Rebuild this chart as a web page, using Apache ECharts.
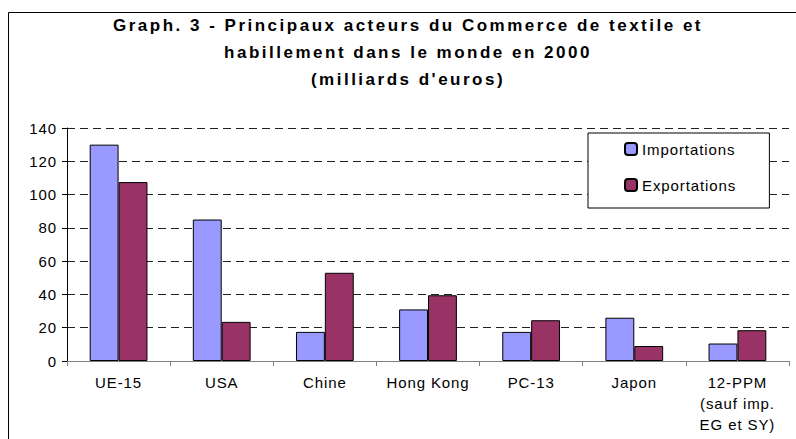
<!DOCTYPE html>
<html>
<head>
<meta charset="utf-8">
<script src="https://cdn.jsdelivr.net/npm/echarts@6/dist/echarts.min.js"></script>
<style>
  html, body { margin: 0; padding: 0; background: #fff; }
  #chart { width: 796px; height: 439px; }
  #chart text { letter-spacing: 0.9px; }
  #chart text[style*="bold"] { letter-spacing: 2.5px; }
</style>
</head>
<body>
<div id="chart"></div>
<script>
// données (milliards d'euros)
const categories = ['UE-15', 'USA', 'Chine', 'Hong Kong', 'PC-13', 'Japon', '12-PPM\n(sauf imp.\nEG et SY)'];
const importations = [130, 85, 17.5, 31, 17.5, 26, 10.5];
const exportations = [107.5, 23.5, 53, 39.5, 24.5, 9, 18.5];
const titleText = 'Graph. 3 - Principaux acteurs du Commerce de textile et\nhabillement dans le monde en 2000\n(milliards d\'euros)';

const font = '"Liberation Sans", Arial, sans-serif';

var chart = echarts.init(document.getElementById('chart'), null, { renderer: 'svg' });

var option = {
  animation: false,
  backgroundColor: '#fff',
  textStyle: { fontFamily: font, color: '#000' },
  graphic: [
    {
      type: 'rect',
      shape: { x: 8.5, y: 12.5, width: 820, height: 450 },
      style: { fill: 'none', stroke: '#000', lineWidth: 1 },
      silent: true
    }
  ],
  title: {
    text: titleText,
    left: 408,
    textAlign: 'center',
    top: 12,
    padding: 0,
    textStyle: {
      fontFamily: font,
      fontWeight: 'bold',
      fontSize: 17,
      lineHeight: 27,
      color: '#000'
    }
  },
  legend: {
    orient: 'vertical',
    left: 588,
    top: 133,
    padding: [8, 44, 15, 36],
    itemWidth: 12,
    itemHeight: 12,
    itemGap: 20,
    borderColor: '#000',
    borderWidth: 1,
    backgroundColor: '#fff',
    textStyle: { fontFamily: font, fontSize: 15, lineHeight: 16, color: '#000' },
    data: ['Importations', 'Exportations']
  },
  grid: {
    left: 67,
    right: 7,
    top: 128,
    bottom: 78,
    containLabel: false
  },
  xAxis: {
    type: 'category',
    data: categories,
    axisLine: { lineStyle: { color: '#808080', width: 1 } },
    axisTick: { show: true, length: 5, lineStyle: { color: '#808080' } },
    axisLabel: {
      interval: 0,
      fontFamily: font,
      fontSize: 15,
      lineHeight: 21,
      margin: 11,
      color: '#000'
    }
  },
  yAxis: {
    type: 'value',
    min: 0,
    max: 140,
    interval: 20,
    axisLine: { show: true, lineStyle: { color: '#000', width: 1 } },
    axisTick: { show: true, length: 5, lineStyle: { color: '#000' } },
    axisLabel: { fontFamily: font, fontSize: 15, margin: 10, color: '#000' },
    splitLine: {
      show: true,
      lineStyle: { color: '#222', type: [8, 5], width: 1 }
    }
  },
  series: [
    {
      name: 'Importations',
      type: 'bar',
      data: importations,
      barGap: '0%',
      barCategoryGap: '44%',
      itemStyle: { color: '#9999FF', borderColor: '#000', borderWidth: 1 }
    },
    {
      name: 'Exportations',
      type: 'bar',
      data: exportations,
      itemStyle: { color: '#993366', borderColor: '#000', borderWidth: 1 }
    }
  ]
};

chart.setOption(option);
</script>
</body>
</html>
